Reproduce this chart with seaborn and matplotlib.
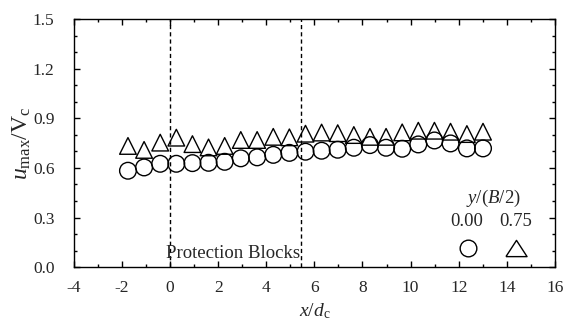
import matplotlib
matplotlib.use("Agg")
import matplotlib.pyplot as plt
from matplotlib.ticker import MultipleLocator, FormatStrFormatter
import numpy as np
import pandas as pd
import seaborn as sns

# Streamwise stations x/d_c
x_pos = [-1.75, -1.08, -0.41, 0.26, 0.93, 1.60, 2.27, 2.94, 3.62, 4.29, 4.96,
         5.63, 6.30, 6.97, 7.64, 8.31, 8.98, 9.65, 10.32, 10.99, 11.66, 12.34, 13.01]

# u_max / V_c at y/(B/2) = 0.00 (centreline)
u_center = [0.583, 0.603, 0.625, 0.625, 0.629, 0.631, 0.637, 0.658, 0.664, 0.679, 0.691,
            0.698, 0.704, 0.710, 0.722, 0.738, 0.722, 0.716, 0.742, 0.766, 0.748, 0.718, 0.718]

# u_max / V_c at y/(B/2) = 0.75
u_side = [0.733, 0.709, 0.753, 0.783, 0.744, 0.724, 0.733, 0.769, 0.769, 0.788, 0.785,
          0.807, 0.814, 0.810, 0.799, 0.788, 0.788, 0.815, 0.825, 0.825, 0.819, 0.805, 0.819]

series_labels = ["0.00", "0.75"]
block_edges = [0.0, 5.45]

df = pd.DataFrame({
    "x": x_pos * 2,
    "u": u_center + u_side,
    "y/(B/2)": [series_labels[0]] * len(x_pos) + [series_labels[1]] * len(x_pos),
})

sns.set_style("ticks")
plt.rcParams["font.family"] = ["Liberation Serif", "DejaVu Serif"]
plt.rcParams["mathtext.fontset"] = "custom"
plt.rcParams["mathtext.rm"] = "Liberation Serif"
plt.rcParams["mathtext.it"] = "Liberation Serif:italic"
plt.rcParams["axes.unicode_minus"] = False

fig = plt.figure(figsize=(5.68, 3.29), dpi=100)
ax = fig.add_axes([0.130, 0.188, 0.847, 0.754])

markers = {"0.00": "o", "0.75": "^"}
for lab in series_labels:
    sub = df[df["y/(B/2)"] == lab]
    sns.scatterplot(data=sub, x="x", y="u", marker=markers[lab], s=144,
                    facecolor="none", edgecolor="black", linewidth=1.0,
                    ax=ax, legend=False, zorder=3)

for xb in block_edges:
    ax.axvline(xb, color="black", linestyle=(0, (3, 2.2)), linewidth=1.0, zorder=1)

ax.text(-0.15, 0.085, "Protection Blocks", fontsize=13.5, ha="left", va="center")

ax.set_xlim(-4, 16)
ax.set_ylim(0, 1.5)
ax.xaxis.set_major_locator(MultipleLocator(2))
ax.xaxis.set_minor_locator(MultipleLocator(1))
ax.yaxis.set_major_locator(MultipleLocator(0.3))
ax.yaxis.set_minor_locator(MultipleLocator(0.1))
ax.yaxis.set_major_formatter(FormatStrFormatter("%.1f"))

ax.tick_params(which="both", direction="in", top=True, right=True, color="black",
               width=1.0)
ax.tick_params(which="major", length=4)
ax.tick_params(which="minor", length=2.4)
ax.tick_params(axis="x", which="major", labelsize=12.5, pad=9)
ax.tick_params(axis="y", which="major", labelsize=12.5, pad=14)
for sp in ax.spines.values():
    sp.set_visible(True)
    sp.set_color("black")
    sp.set_linewidth(1.0)

ax.set_xlabel(r"$x/d_{\rm c}$", fontsize=14, labelpad=4)
ax.set_ylabel(r"$u_{\rm max}/{\rm V}_{\rm c}$", fontsize=17, labelpad=0)

# Key: header, values, and the marker shapes beneath them
ax.text(0.872, 0.277, r"$y/(B/2)$", transform=ax.transAxes, fontsize=13.5,
        ha="center", va="center")
ax.text(0.816, 0.186, "0.00", transform=ax.transAxes, fontsize=13.5,
        ha="center", va="center")
ax.text(0.919, 0.186, "0.75", transform=ax.transAxes, fontsize=13.5,
        ha="center", va="center")
ax.plot([0.819], [0.079], transform=ax.transAxes, marker="o", ms=12,
        mfc="none", mec="black", mew=1.0, clip_on=False)
wide_tri = [(-1.0, -0.77), (1.0, -0.77), (0.0, 0.77), (-1.0, -0.77)]
ax.plot([0.920], [0.079], transform=ax.transAxes, marker=wide_tri, ms=15.2,
        mfc="none", mec="black", mew=1.0, clip_on=False)

fig.savefig("out.png", dpi=100)
